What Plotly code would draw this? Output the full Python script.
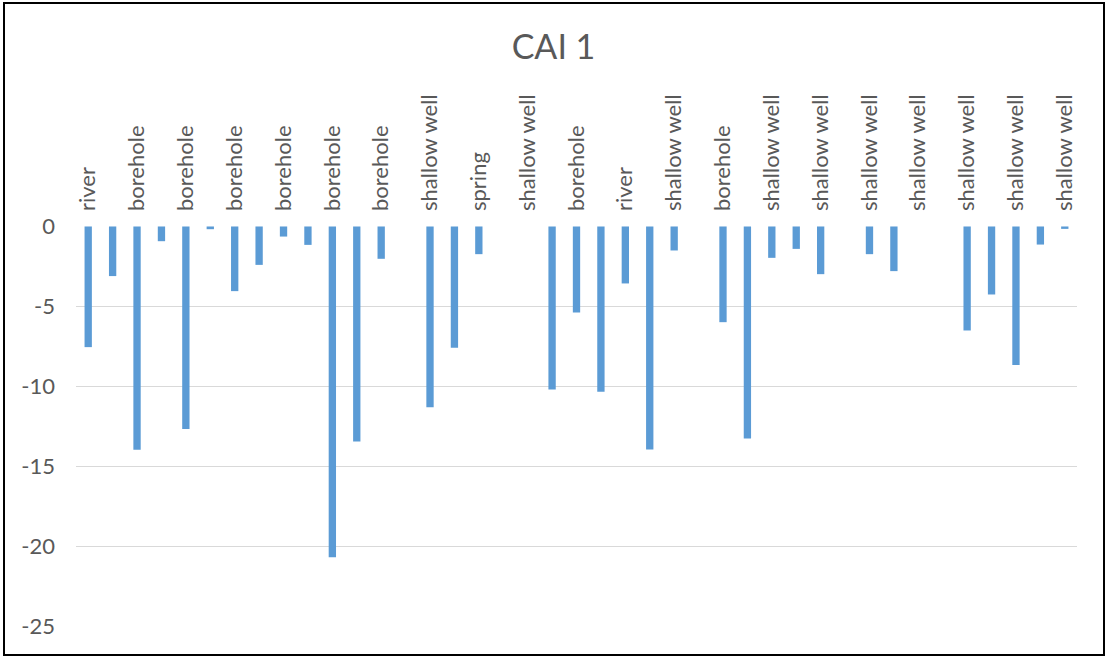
import plotly.graph_objects as go

# CAI 1 value for each of the 41 sampling points (blank where no value was recorded)
cai1 = [
    -7.54, -3.10, -13.96, -0.92, -12.65, -0.17, -4.04, -2.40, -0.63, -1.15,
    -20.67, -13.44, -2.02, None, -11.29, -7.58, -1.73, None, None, -10.19,
    -5.38, -10.33, -3.56, -13.94, -1.50, None, -5.98, -13.25, -1.96, -1.40,
    -2.98, None, -1.73, -2.79, None, None, -6.50, -4.25, -8.65, -1.13,
    -0.15,
]

# Source type labels shown on every other sampling point (1, 3, 5, ..., 41)
site_labels = [
    "river", "borehole", "borehole", "borehole", "borehole", "borehole",
    "borehole", "shallow well", "spring", "shallow well", "borehole", "river",
    "shallow well", "borehole", "shallow well", "shallow well", "shallow well",
    "shallow well", "shallow well", "shallow well", "shallow well",
]

y_ticks = [0, -5, -10, -15, -20, -25]

points = list(range(1, len(cai1) + 1))
label_points = points[::2]

TEXT = "#595959"
GRID = "#d9d9d9"
FONT = "Lato, Calibri, sans-serif"

fig = go.Figure(
    go.Bar(
        x=points,
        y=cai1,
        width=0.3,
        marker=dict(color="#5b9bd5", line=dict(width=0)),
    )
)

# plot area geometry (pixels)
W, H = 1107, 657
L, R, T, B = 76, 30, 226, 30
pw, ph = W - L - R, H - T - B

fig.update_layout(
    width=W,
    height=H,
    margin=dict(l=L, r=R, t=T, b=B, pad=0),
    paper_bgcolor="white",
    plot_bgcolor="white",
    showlegend=False,
    font=dict(family=FONT, color=TEXT),
    title=dict(
        text="CAI 1",
        font=dict(family=FONT, size=34, color=TEXT),
        x=0.5,
        xref="container",
        xanchor="center",
        y=1 - 47 / H,
        yref="container",
        yanchor="middle",
    ),
    xaxis=dict(
        side="top",
        range=[0.5, len(cai1) + 0.5],
        tickmode="array",
        tickvals=label_points,
        ticktext=site_labels,
        tickangle=-90,
        tickfont=dict(family=FONT, size=22, color=TEXT),
        ticks="",
        ticklabelstandoff=14,
        showgrid=False,
        zeroline=False,
        showline=False,
        fixedrange=True,
    ),
    yaxis=dict(
        range=[-25.03, 0.03],
        tickmode="array",
        tickvals=y_ticks,
        ticktext=[str(v) for v in y_ticks],
        tickfont=dict(family=FONT, size=22, color=TEXT),
        ticks="",
        ticklabelstandoff=20,
        showgrid=True,
        gridcolor=GRID,
        gridwidth=1.3,
        zeroline=False,
        showline=False,
        fixedrange=True,
    ),
)

# chart outer frame
fig.add_shape(
    type="rect",
    xref="paper",
    yref="paper",
    x0=(4 - L) / pw,
    x1=(1104 - L) / pw,
    y0=(T + ph - 655) / ph,
    y1=(T + ph - 3) / ph,
    line=dict(color="black", width=2),
    fillcolor="rgba(0,0,0,0)",
    layer="above",
)

fig.write_html("out.html", config={"displayModeBar": False})
